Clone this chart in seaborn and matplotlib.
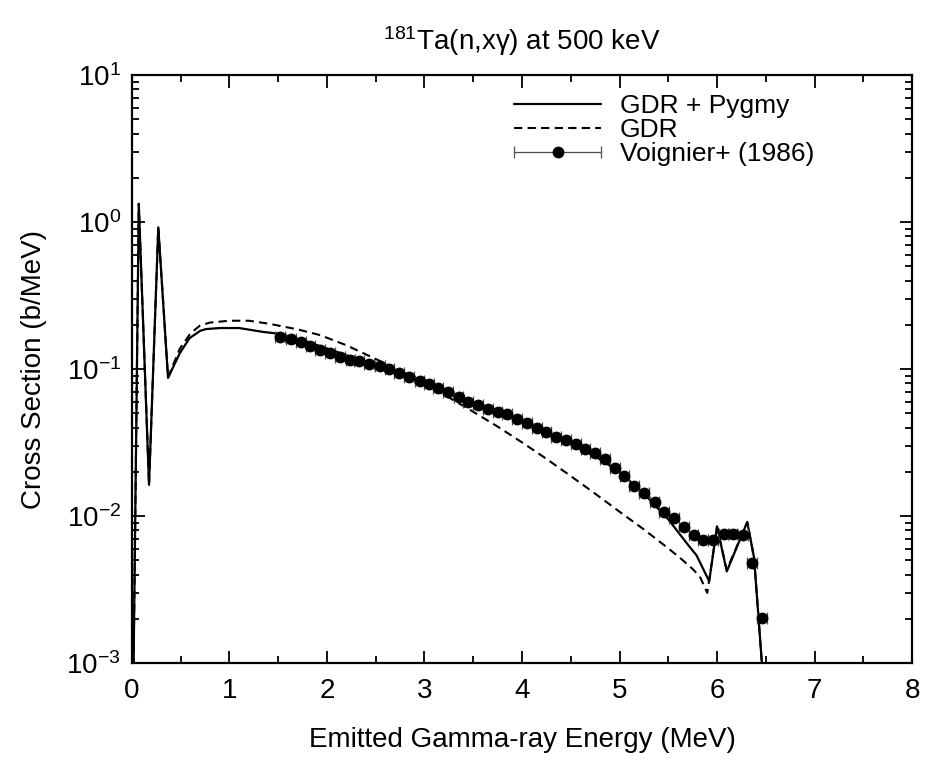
import numpy as np
import pandas as pd
import matplotlib
matplotlib.use("Agg")
import matplotlib.pyplot as plt
import seaborn as sns
from matplotlib.container import ErrorbarContainer
from matplotlib.legend_handler import HandlerErrorbar

# ---- data ----
pygmy_e = [0.0, 0.07, 0.175, 0.27, 0.37, 0.49, 0.59, 0.70, 0.76, 0.90, 1.10, 1.34, 1.50,
           1.75, 2.00, 2.25, 2.50, 2.75, 3.00, 3.25, 3.50, 3.75, 4.00, 4.25, 4.50, 4.75,
           5.00, 5.25, 5.50, 5.70, 5.79, 5.92, 6.00, 6.10, 6.31, 6.38, 6.46, 6.48]
pygmy_y = [1e-4, 1.33, 0.0163, 0.92, 0.087, 0.128, 0.162, 0.182, 0.187, 0.190, 0.190, 0.179, 0.174,
           0.157, 0.138, 0.121, 0.108, 0.095, 0.082, 0.070, 0.059, 0.051, 0.044, 0.037, 0.031, 0.0255,
           0.0200, 0.0142, 0.0095, 0.0064, 0.0054, 0.0036, 0.0085, 0.0042, 0.0091, 0.0052, 0.0010, 1e-5]

gdr_e = [0.0, 0.07, 0.175, 0.27, 0.37, 0.49, 0.60, 0.70, 0.80, 1.00, 1.20, 1.41, 1.70, 1.93,
         2.20, 2.50, 2.80, 3.00, 3.20, 3.47, 3.75, 4.00, 4.25, 4.50, 4.75, 5.00, 5.25,
         5.49, 5.62, 5.76, 5.83, 5.90, 6.00, 6.10, 6.31, 6.38, 6.46, 6.48]
gdr_y = [1e-4, 1.33, 0.0163, 0.92, 0.088, 0.137, 0.175, 0.198, 0.207, 0.213, 0.213, 0.203, 0.186, 0.170,
         0.145, 0.117, 0.094, 0.080, 0.067, 0.0526, 0.0406, 0.0317, 0.0245, 0.0187, 0.0142, 0.0107, 0.0081,
         0.0061, 0.0052, 0.0043, 0.0038, 0.0030, 0.0084, 0.0043, 0.0091, 0.0052, 0.0010, 1e-5]

exp_e = [1.52, 1.63, 1.73, 1.83, 1.93, 2.03, 2.13, 2.24, 2.33, 2.43, 2.54, 2.64, 2.74, 2.84, 2.95,
         3.05, 3.14, 3.24, 3.35, 3.45, 3.55, 3.65, 3.75, 3.85, 3.95, 4.05, 4.15, 4.25, 4.35, 4.45,
         4.55, 4.65, 4.75, 4.85, 4.95, 5.05, 5.15, 5.25, 5.36, 5.46, 5.56, 5.66, 5.76, 5.86, 5.96,
         6.07, 6.16, 6.27, 6.36, 6.46]
exp_y = [0.166, 0.159, 0.153, 0.144, 0.135, 0.128, 0.121, 0.116, 0.114, 0.109, 0.105, 0.0995, 0.094, 0.088, 0.083,
         0.079, 0.074, 0.0694, 0.0648, 0.060, 0.0569, 0.0532, 0.0512, 0.0491, 0.0457, 0.0431, 0.0395, 0.0374, 0.0346, 0.0329,
         0.031, 0.0284, 0.0267, 0.0243, 0.0213, 0.0187, 0.0160, 0.0143, 0.0125, 0.0107, 0.0097, 0.0084, 0.0074, 0.0069, 0.0069,
         0.0075, 0.0075, 0.0074, 0.0048, 0.00204]
exp_xerr = 0.05
exp_yrel = 0.04

x_ticks = [0, 1, 2, 3, 4, 5, 6, 7, 8]

# ---- plot ----
sns.set_theme(style="ticks")
plt.rcParams['font.family'] = ['Liberation Sans', 'DejaVu Sans']
plt.rcParams['mathtext.fontset'] = 'custom'
plt.rcParams['mathtext.rm'] = 'Liberation Sans'
plt.rcParams['mathtext.it'] = 'Liberation Sans'
for k in ['text.color', 'axes.labelcolor', 'xtick.color', 'ytick.color', 'axes.edgecolor']:
    plt.rcParams[k] = 'black'

FS = 20
LFS = 19
fig = plt.figure(figsize=(9.28, 7.6), dpi=100)
ax = fig.add_axes([0.1422, 0.1276, 0.8406, 0.7737])

df_p = pd.DataFrame({"E": pygmy_e, "y": pygmy_y})
df_g = pd.DataFrame({"E": gdr_e, "y": gdr_y})

sns.lineplot(data=df_p, x="E", y="y", ax=ax, color="black", lw=1.6, estimator=None,
             sort=False, label="GDR + Pygmy")
sns.lineplot(data=df_g, x="E", y="y", ax=ax, color="black", lw=1.5, estimator=None,
             sort=False, label="GDR", linestyle=(0, (4, 2.5)))

ey = np.array(exp_y)
ax.errorbar(exp_e, exp_y, yerr=ey * exp_yrel, fmt='none', ecolor='0.35', elinewidth=0.8,
            capsize=0)
ax.errorbar(exp_e, exp_y, xerr=exp_xerr, fmt='o', color='black', ms=7.5, ecolor='0.3',
            elinewidth=0.9, capsize=4, capthick=0.9, label="Voignier+ (1986)", zorder=3)

ax.set_yscale("log")
ax.set_xlim(0, 8)
ax.set_ylim(1e-3, 1e1)
ax.set_xticks(x_ticks)
ax.set_xticklabels([str(t) for t in x_ticks])
ax.xaxis.set_minor_locator(matplotlib.ticker.MultipleLocator(0.5))
ax.yaxis.set_minor_locator(matplotlib.ticker.LogLocator(base=10, subs=np.arange(2, 10), numticks=20))

ax.tick_params(which='both', direction='in', top=True, right=True, labelsize=FS,
               width=1.3, color='black')
ax.tick_params(axis='x', which='both', pad=11)
ax.tick_params(axis='y', which='both', pad=8)
ax.tick_params(which='major', length=9)
ax.tick_params(which='minor', length=5)
for s in ax.spines.values():
    s.set_linewidth(1.6)
    s.set_color('black')

ax.set_xlabel("Emitted Gamma-ray Energy (MeV)", fontsize=FS, labelpad=16)
ax.set_ylabel("Cross Section (b/MeV)", fontsize=FS, labelpad=14)
ax.set_title(r"$^{181}$Ta(n,x$\gamma$) at 500 keV", fontsize=FS, pad=18)

hl = 3.3
leg = ax.legend(loc="upper right", frameon=False, fontsize=LFS, handlelength=hl,
                handletextpad=0.7, labelspacing=0.0, borderaxespad=0.2,
                bbox_to_anchor=(0.895, 0.995),
                handler_map={ErrorbarContainer: HandlerErrorbar(xerr_size=hl / 2)})

fig.savefig("out.png", dpi=100)
